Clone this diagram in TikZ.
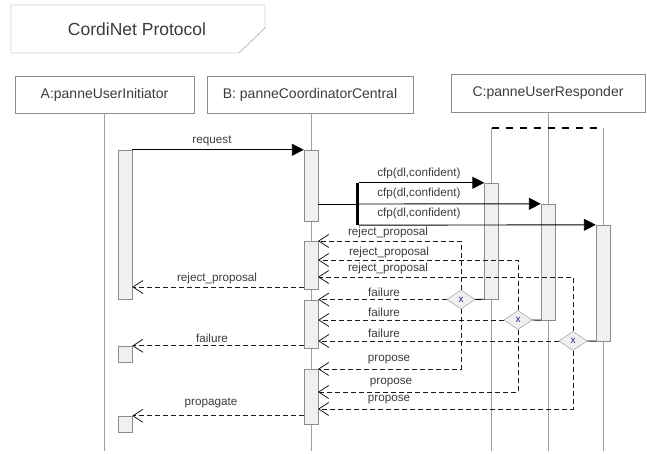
\documentclass[tikz,border=0pt]{standalone}
\usepackage{fontspec}
\setmainfont{Liberation Sans}
\usetikzlibrary{arrows.meta,shapes.geometric}
\definecolor{lifegray}{HTML}{A0A0A0}
\definecolor{boxgray}{HTML}{8C8C8C}
\definecolor{actfill}{HTML}{F0F0F0}
\definecolor{txt}{HTML}{3C3C3C}
\begin{document}
\begin{tikzpicture}[x=1pt,y=-1pt,
 hdr/.style={draw=boxgray, fill=white, minimum height=37pt, inner sep=0pt, font=\fontsize{14}{16}\selectfont, text=txt},
 act/.style={draw=boxgray, fill=actfill, minimum width=14pt, inner sep=0pt},
 life/.style={draw=lifegray, line width=0.8pt},
 lbl/.style={font=\fontsize{11.7}{13}\selectfont, text=txt, inner sep=0pt},
 call/.style={draw=black, line width=0.9pt, -{Triangle[length=12pt,width=12pt]}},
 ret/.style={draw=black!90, line width=0.9pt, dash pattern=on 5pt off 3pt, -{Straight Barb[length=10pt,width=13pt,line width=0.8pt]}},
 dec/.style={diamond, aspect=1.5, draw=boxgray!80, fill=actfill, minimum width=28pt, minimum height=19pt, inner sep=0pt, font=\fontsize{10}{10}\selectfont, text=txt!60!blue}
]
\useasboundingbox (0,0) rectangle (647,454);

% title
\draw[draw=boxgray, fill=white] (11,5) -- (265,5) -- (265,28) -- (239,53) -- (11,53) -- cycle;
\node[font=\fontsize{17.5}{20}\selectfont, text=txt] (title) at (137,29) {CordiNet Protocol};

% headers
\node[hdr, minimum width=179pt] (hA) at (104.5,94.5) {A:panneUserInitiator};
\node[hdr, minimum width=206pt] (hB) at (310,94.5) {B: panneCoordinatorCentral};
\node[hdr, minimum width=194pt, minimum height=38pt] (hC) at (548,93) {C:panneUserResponder};

\coordinate (bot) at (0,451);
\coordinate (ct1) at (491.5,128);
\coordinate (ct3) at (603,128);

% lifelines
\draw[life] (hA.south) -- (hA.south |- bot);
\draw[life] (hB.south -| 311,0) -- (311,451);
\draw[life] (hC.south) -- (hC.south |- bot);
\draw[life] (ct1) -- (ct1 |- bot);
\draw[life] (ct3) -- (ct3 |- bot);
\draw[line width=2.5pt, dash pattern=on 7pt off 7pt] (ct1) -- (ct3);

% activations
\node[act, minimum height=149pt] (a1) at (125,224.5) {};
\node[act, minimum height=16pt] (a2) at (125,354) {};
\node[act, minimum height=16pt] (a3) at (125,424) {};
\node[act, minimum height=71pt] (b1) at (311,185.5) {};
\node[act, minimum height=48pt] (b2) at (311,265) {};
\node[act, minimum height=48pt] (b3) at (311,324) {};
\node[act, minimum height=55pt] (b4) at (311,396.5) {};
\node[act, minimum height=116pt] (c1) at (491.5,241) {};
\node[act, minimum height=116pt] (c2) at (548,262) {};
\node[act, minimum height=116pt] (c3) at (603,283) {};

% request
\draw[call] (a1.north east) -- (b1.north west);
\node[lbl] (lreq) at (212,141) {request};

% cfp bar and calls
\node[fill=black, minimum width=3pt, minimum height=42pt, inner sep=0pt] (bar) at (357,204) {};
\draw[line width=0.9pt] (b1.east |- bar.center) -- (bar.center);
\draw[call] (bar.north east) -- (c1.north west);
\draw[call] (bar.east) -- (c2.north west);
\draw[call] (bar.south east) -- (c3.north west);
\node[lbl] (lc1) at (419,173) {cfp(dl,confident)};
\node[lbl] (lc2) at (419,193) {cfp(dl,confident)};
\node[lbl] (lc3) at (419,213) {cfp(dl,confident)};

% decision points (placed first so the connectors can use their anchors)
\node[dec] (d1) at (461,299.5) {x};
\node[dec] (d2) at (518,320) {x};
\node[dec] (d3) at (573,341) {x};

\coordinate (r1) at (318,241);
\coordinate (r2) at (318,260);
\coordinate (r3) at (318,277);
\coordinate (p1) at (318,369);
\coordinate (p2) at (318,392);
\coordinate (p3) at (318,409);

\draw[ret] (d1.north) |- (r1);
\draw[ret] (d2.north) |- (r2);
\draw[ret] (d3.north) |- (r3);
\draw[ret] (d1.west) -- (b3.east |- d1.west);
\draw[ret] (d2.west) -- (b3.east |- d2.west);
\draw[ret] (d3.west) -- (b3.east |- d3.west);
\draw[ret] (d1.south) |- (p1);
\draw[ret] (d2.south) |- (p2);
\draw[ret] (d3.south) |- (p3);

% redraw decision points on top of the dashed lines
\node[dec] (d1t) at (d1) {x};
\node[dec] (d2t) at (d2) {x};
\node[dec] (d3t) at (d3) {x};
\draw[line width=0.9pt] (c1.south west) -- (d1t.east);
\draw[line width=0.9pt] (c2.south west) -- (d2t.east);
\draw[line width=0.9pt] (c3.south west) -- (d3t.east);

\node[lbl] (lr1) at (388,232) {reject\_proposal};
\node[lbl] (lr2) at (389,252) {reject\_proposal};
\node[lbl] (lr3) at (388,268) {reject\_proposal};
\node[lbl] (lf1) at (384,292) {failure};
\node[lbl] (lf2) at (384,312) {failure};
\node[lbl] (lf3) at (384,333) {failure};
\node[lbl] (lp1) at (389,360) {propose};
\node[lbl] (lp2) at (391,383) {propose};
\node[lbl] (lp3) at (389,400) {propose};

% B -> A
\coordinate (ra) at (304,287);
\draw[ret] (ra) -- (a1.east |- ra);
\draw[ret] (b3.west |- a2.north) -- (a2.north east);
\draw[ret] (b4.west |- a3.north) -- (a3.north east);
\node[lbl] (lra) at (217,278) {reject\_proposal};
\node[lbl] (lfa) at (212,338) {failure};
\node[lbl] (lpa) at (211,403) {propagate};
\end{tikzpicture}
\end{document}
